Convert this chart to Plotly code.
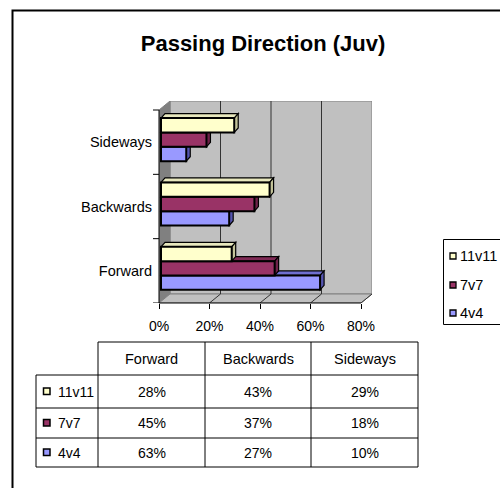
import plotly.graph_objects as go

# ---------------- data ----------------
categories = ["Forward", "Backwards", "Sideways"]
series_names = ["11v11", "7v7", "4v4"]
values_11v11 = [0.28, 0.43, 0.29]
values_7v7 = [0.45, 0.37, 0.18]
values_4v4 = [0.63, 0.27, 0.10]
x_tick_vals = [0, 0.2, 0.4, 0.6, 0.8]
x_tick_labels = ["0%", "20%", "40%", "60%", "80%"]
title_text = "Passing Direction (Juv)"

# ---------------- styles / geometry ----------------
FONT = "Liberation Sans, Arial, sans-serif"
W, H = 500, 488
FX0, FX80 = 159, 361          # front plane 0% / 80% pixel x
FY_BOT, FY_TOP = 303, 110     # front plane bottom / top pixel y
WALL_DX, WALL_DY = 11, 9      # wall depth (px)
BAR_DX, BAR_DY = 4, 4.5       # bar depth (px)
BAR_SHIFT = (2, 2.5)          # bar front plane offset (px)

PXX = (FX80 - FX0) / 0.8
PXY = (FY_BOT - FY_TOP) / 3.0
L = FX0
R = W - (FX80 + WALL_DX)
T = FY_TOP - WALL_DY
B = H - FY_BOT
PW = W - L - R
PH = H - T - B

wdx, wdy = WALL_DX / PXX, WALL_DY / PXY
bdx, bdy = BAR_DX / PXX, BAR_DY / PXY
sx, sy = BAR_SHIFT[0] / PXX, BAR_SHIFT[1] / PXY

def px(xp):
    return (xp - L) / PW

def py(yp):
    return (H - B - yp) / PH

front = {"11v11": "#FFFFCC", "7v7": "#993366", "4v4": "#9999FF"}
topc = {"11v11": "#E8E8BE", "7v7": "#7F2A55", "4v4": "#6F6FD0"}
sidec = {"11v11": "#C4C49A", "7v7": "#6E2249", "4v4": "#5555B0"}
series_vals = {"11v11": values_11v11, "7v7": values_7v7, "4v4": values_4v4}
bar_w = 0.223
offsets = {"4v4": -0.334, "7v7": -0.111, "11v11": 0.112}

ypos = list(range(len(categories)))

shapes = []

def poly(pts, fill, line="black", lw=1, xref="x", yref="y", layer="below"):
    path = "M " + " L ".join(f"{a},{b}" for a, b in pts) + " Z"
    shapes.append(dict(type="path", path=path, xref=xref, yref=yref,
                       fillcolor=fill, line=dict(color=line, width=lw), layer=layer))

def seg(x0, y0, x1, y1, color="black", lw=1, xref="x", yref="y", layer="below"):
    shapes.append(dict(type="line", x0=x0, y0=y0, x1=x1, y1=y1, xref=xref, yref=yref,
                       line=dict(color=color, width=lw), layer=layer))

ylo, yhi = -0.5, len(categories) - 0.5
xmax = x_tick_vals[-1]
# back wall
poly([(wdx, ylo + wdy), (xmax + wdx, ylo + wdy), (xmax + wdx, yhi + wdy), (wdx, yhi + wdy)],
     "#C0C0C0", line="#808080")
# left wall
poly([(0, ylo), (0, yhi), (wdx, yhi + wdy), (wdx, ylo + wdy)], "#808080", line="#808080")
# floor
poly([(0, ylo), (xmax, ylo), (xmax + wdx, ylo + wdy), (wdx, ylo + wdy)], "#C0C0C0", line="#808080")
# gridlines on wall and floor
for t in x_tick_vals[1:-1]:
    seg(t + wdx, ylo + wdy, t + wdx, yhi + wdy, color="#333333")
for t in x_tick_vals[1:]:
    seg(t, ylo, t + wdx, ylo + wdy, color="#333333")

# bar 3D faces (drawn under the bar front faces)
for name in ["4v4", "7v7", "11v11"]:
    for yi, v in zip(ypos, series_vals[name]):
        yb = yi + sy + offsets[name]
        yt = yb + bar_w
        x0 = sx
        x1 = sx + v
        poly([(x0, yt), (x1, yt), (x1 + bdx, yt + bdy), (x0 + bdx, yt + bdy)], topc[name], lw=1.2)
        poly([(x1, yb), (x1 + bdx, yb + bdy), (x1 + bdx, yt + bdy), (x1, yt)], sidec[name], lw=1.2)

# axis lines
seg(0, ylo, 0, yhi, color="black", lw=1, xref="paper", yref="y", layer="above")
seg(0, 0, xmax, 0, color="black", lw=1, xref="x", yref="paper", layer="above")
# left ticks at category boundaries
for b in [ylo + i for i in range(len(categories) + 1)]:
    seg(px(FX0 - 6), b, 0, b, color="black", lw=1, xref="paper", yref="y", layer="above")

fig = go.Figure()
for name in ["4v4", "7v7", "11v11"]:
    fig.add_trace(go.Bar(
        y=ypos, x=series_vals[name], base=sx, orientation="h", name=name,
        offset=sy + offsets[name], width=bar_w,
        marker=dict(color=front[name], line=dict(color="black", width=2)),
        showlegend=False, hoverinfo="skip"))

annotations = []
# frame
shapes.append(dict(type="rect", xref="paper", yref="paper",
                   x0=px(12.5), y0=py(10.5), x1=px(560), y1=py(560),
                   line=dict(color="black", width=2), fillcolor="rgba(0,0,0,0)", layer="above"))

# legend box
shapes.append(dict(type="rect", xref="paper", yref="paper",
                   x0=px(443.5), y0=py(239.5), x1=px(560), y1=py(324.5),
                   line=dict(color="black", width=1), fillcolor="rgba(0,0,0,0)", layer="above"))
leg_y = [256, 285, 313]
for name, yy in zip(series_names, leg_y):
    shapes.append(dict(type="rect", xref="paper", yref="paper",
                       x0=px(450), y0=py(yy - 3), x1=px(456), y1=py(yy + 3),
                       fillcolor=front[name], line=dict(color="black", width=1.3), layer="above"))
    annotations.append(dict(x=px(458), y=py(yy), xref="paper", yref="paper", text=name,
                            showarrow=False, xanchor="left", yanchor="middle",
                            font=dict(family=FONT, size=14.5, color="black")))

# data table
col_x = [98, 205, 311, 418]
row_y = [342, 375, 408, 438, 467]
tab_left = 36
tline = "#000000"
seg(px(col_x[0]), py(row_y[0]), px(col_x[-1]), py(row_y[0]), color=tline, xref="paper", yref="paper", layer="above")
for ry in row_y[1:]:
    seg(px(tab_left), py(ry), px(col_x[-1]), py(ry), color=tline, xref="paper", yref="paper", layer="above")
for cx in col_x:
    seg(px(cx), py(row_y[0]), px(cx), py(row_y[-1]), color=tline, xref="paper", yref="paper", layer="above")
seg(px(tab_left), py(row_y[1]), px(tab_left), py(row_y[-1]), color=tline, xref="paper", yref="paper", layer="above")

for ci, cat in enumerate(categories):
    cxm = (col_x[ci] + col_x[ci + 1]) / 2
    annotations.append(dict(x=px(cxm), y=py((row_y[0] + row_y[1]) / 2), xref="paper", yref="paper",
                            text=cat, showarrow=False, xanchor="center", yanchor="middle",
                            font=dict(family=FONT, size=14.5, color="black")))
for ri, name in enumerate(series_names):
    ryc = (row_y[ri + 1] + row_y[ri + 2]) / 2
    shapes.append(dict(type="rect", xref="paper", yref="paper",
                       x0=px(43.5), y0=py(ryc - 3.5), x1=px(50), y1=py(ryc + 3),
                       fillcolor=front[name], line=dict(color="black", width=1.5), layer="above"))
    annotations.append(dict(x=px(56), y=py(ryc), xref="paper", yref="paper", text=name,
                            showarrow=False, xanchor="left", yanchor="middle",
                            font=dict(family=FONT, size=14, color="black")))
    for ci, v in enumerate(series_vals[name]):
        cxm = (col_x[ci] + col_x[ci + 1]) / 2
        annotations.append(dict(x=px(cxm), y=py(ryc), xref="paper", yref="paper",
                                text=f"{round(v * 100)}%", showarrow=False,
                                xanchor="center", yanchor="middle",
                                font=dict(family=FONT, size=14, color="black")))

fig.update_layout(
    width=W, height=H,
    margin=dict(l=L, r=R, t=T, b=B, pad=0),
    paper_bgcolor="white", plot_bgcolor="white",
    barmode="overlay",
    showlegend=False,
    title=dict(text=title_text, x=263 / W, xref="container", xanchor="center",
               y=1 - 43 / H, yref="container", yanchor="middle",
               font=dict(family=FONT, size=22, color="black", weight="bold")),
    font=dict(family=FONT, size=14, color="black"),
    shapes=shapes,
    annotations=annotations,
    xaxis=dict(range=[0, (PW) / PXX], tickvals=x_tick_vals, ticktext=x_tick_labels,
               ticks="outside", ticklen=5, tickcolor="black", tickwidth=1,
               showgrid=False, zeroline=False, showline=False, fixedrange=True,
               ticklabelstandoff=5, tickfont=dict(family=FONT, size=14, color="black")),
    yaxis=dict(range=[ylo, ylo + PH / PXY], tickvals=ypos, ticktext=categories,
               ticks="", showgrid=False, zeroline=False, showline=False, fixedrange=True,
               ticklabelstandoff=6, tickfont=dict(family=FONT, size=14.5, color="black")),
)

fig.write_html("out.html", config={"displayModeBar": False},
               post_script="document.body.style.margin='0';document.body.style.overflow='hidden';")
